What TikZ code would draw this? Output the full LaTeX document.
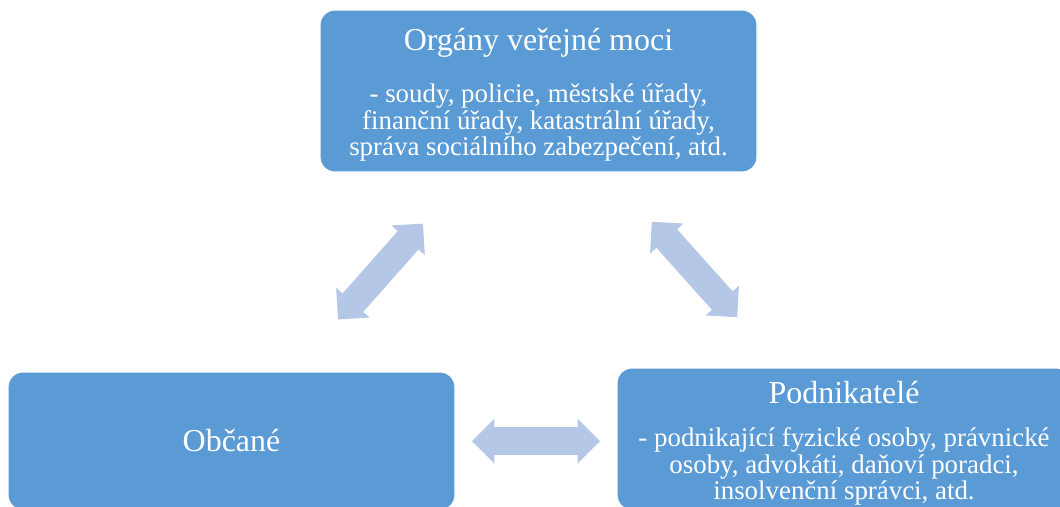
\documentclass[tikz,border=0pt]{standalone}
\usepackage{fontspec}
\setmainfont{Liberation Serif}
\usetikzlibrary{shapes.arrows,positioning}
\definecolor{boxblue}{HTML}{5B9BD5}
\definecolor{arrowblue}{HTML}{B4C7E7}

\begin{document}
\begin{tikzpicture}[
  panel/.style={rectangle,rounded corners=0.3cm,fill=boxblue,draw=white,
    line width=0.6pt,inner sep=0pt},
  head/.style={text=white,font=\fontsize{18.2}{21}\selectfont,inner sep=0pt},
  detail/.style={text=white,font=\fontsize{15.3}{14.9}\selectfont,
    align=center,inner sep=0pt},
  link/.style={double arrow,fill=arrowblue,draw=none,
    inner xsep=0pt,inner ysep=0.27cm,
    minimum height=2.56cm,minimum width=0.88cm,
    double arrow head extend=0.17cm}
]
  \useasboundingbox (0,0) rectangle (21.2,-10.12);

  % The three panels; the lower two run past the bottom edge.
  \node[panel,minimum width=8.74cm,minimum height=3.24cm]
    (verejnamoc) at (10.77,-1.82) {};
  \node[panel,minimum width=8.94cm,minimum height=2.76cm]
    (obcane) at (4.63,-8.82) {};
  \node[panel,minimum width=9.08cm,minimum height=2.84cm]
    (podnikatele) at (16.88,-8.78) {};

  % Texts.
  \node[head] (verejnamoc-t) at (10.77,-0.86) {Orgány veřejné moci};
  \node[detail] (verejnamoc-d) at (10.77,-2.45)
    {- soudy, policie, městské úřady,\\
     finanční úřady, katastrální úřady,\\
     správa sociálního zabezpečení, atd.};
  \node[head] (obcane-t) at (obcane) {Občané};
  \node[head] (podnikatele-t) at (16.88,-7.86) {Podnikatelé};
  \node[detail] (podnikatele-d) at (16.88,-9.33)
    {- podnikající fyzické osoby, právnické\\
     osoby, advokáti, daňoví poradci,\\
     insolvenční správci, atd.};

  % Two-way links between the panels.
  \node[link,rotate=48.5] (vazba-vo) at (7.61,-5.43) {};
  \node[link,rotate=-48.2] (vazba-vp) at (13.89,-5.39) {};
  \node[link] (vazba-op) at (10.72,-8.82) {};
\end{tikzpicture}
\end{document}
